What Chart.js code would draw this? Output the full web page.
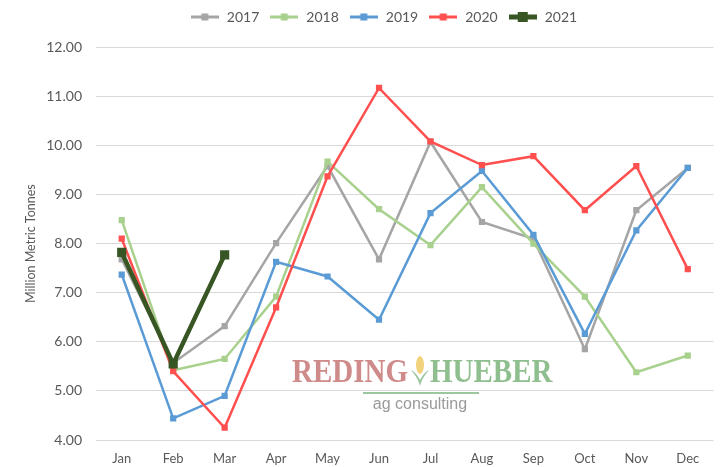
<!DOCTYPE html>
<html>
<head>
<meta charset="utf-8">
<script src="https://cdn.jsdelivr.net/npm/chart.js@4.4.0/dist/chart.umd.min.js"></script>
<style>
  html, body { margin: 0; padding: 0; background: #fff; }
  #wrap { position: relative; width: 720px; height: 467px; }
  #logo { position: absolute; left: 0; top: 0; width: 720px; height: 467px; pointer-events: none; }
  .lg { position: absolute; font-family: "Liberation Serif", serif; font-weight: bold; font-size: 29px; line-height: 29px; transform-origin: left top; transform: scaleY(1.15); white-space: nowrap; }
</style>
</head>
<body>
<div id="wrap">
  <canvas id="c" width="720" height="467"></canvas>
  <div id="logo">
    <div class="lg" style="left:292px; top:354px; color:#cf8a8a;">REDING</div>
    <svg style="position:absolute; left:410px; top:352px;" width="20" height="36" viewBox="0 0 20 36">
      <ellipse cx="10" cy="13" rx="4" ry="9" fill="#f2d27a"/>
      <path d="M10 34 C 8 26, 4 22, 1 18 C 5 20, 8 24, 10 28 Z" fill="#9cc59c"/>
      <path d="M10 34 C 12 26, 16 22, 19 18 C 15 20, 12 24, 10 28 Z" fill="#9cc59c"/>
    </svg>
    <div class="lg" style="left:430px; top:354px; color:#8fbf8f;">HUEBER</div>
    <div style="position:absolute; left:363px; top:392px; width:116px; height:2px; background:#9cc69c;"></div>
    <div style="position:absolute; left:364px; top:395px; width:112px; text-align:center; font-family:'Liberation Sans', sans-serif; font-size:16px; color:#9a9a9a; white-space:nowrap;">ag consulting</div>
  </div>
</div>
<script>
const months = ['Jan','Feb','Mar','Apr','May','Jun','Jul','Aug','Sep','Oct','Nov','Dec'];
const seriesNames = ['2017','2018','2019','2020','2021'];
const v2017 = [7.68, 5.57, 6.32, 8.01, 9.58, 7.68, 10.07, 8.44, 8.10, 5.85, 8.68, 9.54];
const v2018 = [8.48, 5.42, 5.65, 6.92, 9.67, 8.70, 7.97, 9.15, 8.00, 6.92, 5.38, 5.72];
const v2019 = [7.37, 4.44, 4.90, 7.63, 7.33, 6.45, 8.62, 9.48, 8.18, 6.16, 8.27, 9.54];
const v2020 = [8.10, 5.40, 4.25, 6.70, 9.37, 11.17, 10.08, 9.60, 9.78, 8.68, 9.58, 7.48];
const v2021 = [7.82, 5.55, 7.77];
const yTicks = [4, 5, 6, 7, 8, 9, 10, 11, 12];

const colors = ['#a5a5a5', '#a9d18e', '#5b9bd5', '#ff4f4f', '#375623'];
const widths = [2.5, 2.5, 2.5, 2.5, 4.5];
const radii = [4.4, 4.4, 4.4, 4.4, 6.5];
const values = [v2017, v2018, v2019, v2020, v2021];

function legendIcon(color, lw, sq) {
  const cv = document.createElement('canvas');
  cv.width = 28; cv.height = 12;
  const c = cv.getContext('2d');
  c.strokeStyle = color; c.lineWidth = lw;
  c.beginPath(); c.moveTo(0, 6); c.lineTo(28, 6); c.stroke();
  c.fillStyle = color;
  c.fillRect(14 - sq / 2, 6 - sq / 2, sq, sq);
  return cv;
}
const icons = colors.map((c, i) => legendIcon(c, i === 4 ? 5 : 3, i === 4 ? 10 : 7));

const datasets = seriesNames.map((n, i) => ({
  label: n,
  data: values[i],
  borderColor: colors[i],
  backgroundColor: colors[i],
  borderWidth: widths[i],
  pointStyle: 'rect',
  pointRadius: radii[i],
  pointHoverRadius: radii[i],
  pointBorderWidth: 0,
  tension: 0,
  order: 5 - i
}));

const legendShift = {
  id: 'legendShift',
  afterLayout(chart) {
    const dx = 24;
    chart.legend.left += dx;
    chart.legend.right += dx;
  }
};

const FONT = 'Lato, "Open Sans", sans-serif';

new Chart(document.getElementById('c'), {
  type: 'line',
  data: { labels: months, datasets },
  plugins: [legendShift],
  options: {
    responsive: false,
    animation: false,
    layout: { padding: { top: 0, left: 0, right: 1, bottom: 0 } },
    plugins: {
      tooltip: { enabled: false },
      title: { display: true, text: '', padding: { top: 6, bottom: 6 }, font: { size: 1 } },
      legend: {
        position: 'top',
        weight: 3000,
        labels: {
          usePointStyle: true,
          pointStyleWidth: 30,
          padding: 10,
          color: '#595959',
          font: { family: FONT, size: 14 },
          sort: (a, b) => a.datasetIndex - b.datasetIndex,
          generateLabels(chart) {
            const items = Chart.defaults.plugins.legend.labels.generateLabels(chart);
            items.forEach((it) => { it.pointStyle = icons[it.datasetIndex]; });
            return items;
          }
        }
      }
    },
    scales: {
      x: {
        offset: true,
        grid: { display: false, drawTicks: false },
        border: { display: false },
        ticks: { color: '#595959', font: { family: FONT, size: 13 }, padding: 11, maxRotation: 0 },
        afterFit(s) { s.height = 27; }
      },
      y: {
        min: 4, max: 12,
        afterBuildTicks(s) { s.ticks = yTicks.map(v => ({ value: v })); },
        grid: { color: '#d9d9d9', lineWidth: 1, drawTicks: false },
        border: { display: false },
        ticks: {
          color: '#595959', font: { family: FONT, size: 14 }, padding: 14,
          callback: (v) => Number(v).toFixed(2)
        },
        title: {
          display: true, text: 'Million Metric Tonnes', color: '#595959',
          font: { family: FONT, size: 12.5 }, padding: { top: 23, bottom: 0 }
        },
        afterFit(s) { s.width = 96; }
      }
    }
  }
});
</script>
</body>
</html>
